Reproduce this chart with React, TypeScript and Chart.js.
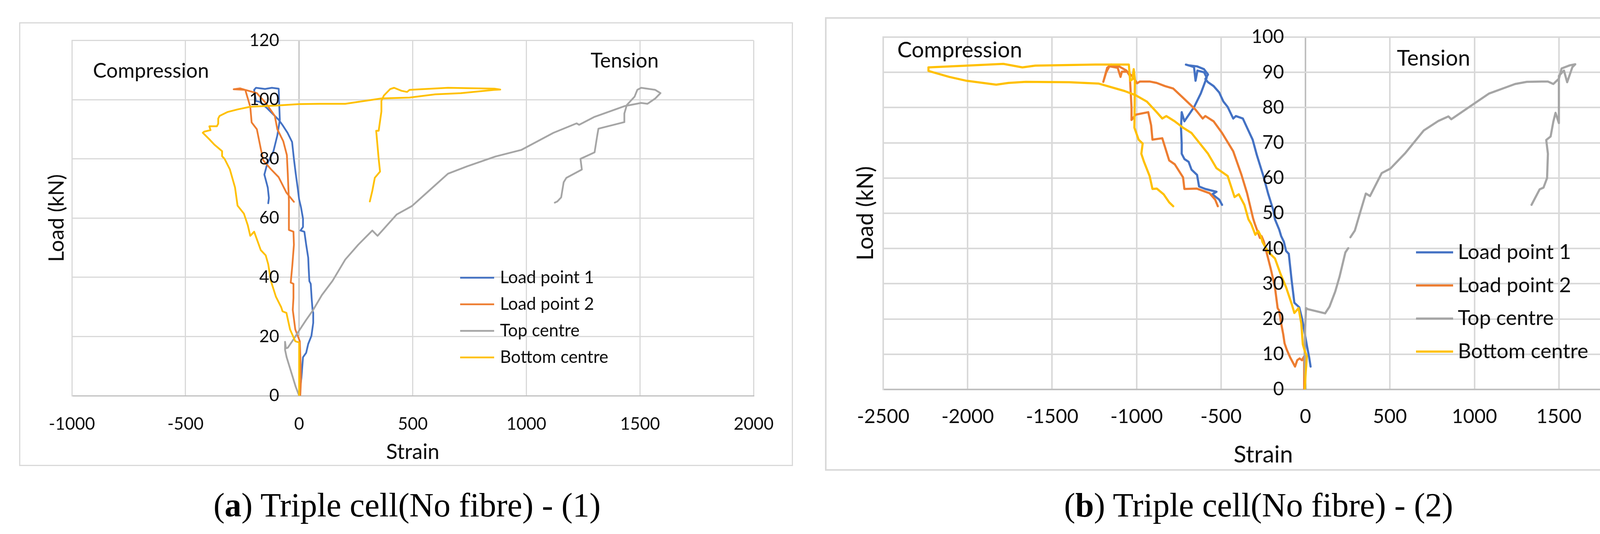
import React, { useEffect, useRef } from "react";
import { Chart, registerables } from "chart.js";

Chart.register(...registerables);

type Pt = [number, number | null];

const SERIES_NAMES = ["Load point 1", "Load point 2", "Top centre", "Bottom centre"];
const SERIES_COLORS = ["#4472C4", "#ED7D31", "#A5A5A5", "#FFC000"];

// ---------- Panel (a): Triple cell(No fibre) - (1) ----------
const aStrainTicks = [-1000, -500, 0, 500, 1000, 1500, 2000];
const aLoadTicks = [0, 20, 40, 60, 80, 100, 120];

const aLoadPoint1: Pt[] = [
  [0, 0], [10, 6], [17, 13], [31, 14.5], [40, 17.5], [54, 20.2], [62, 24.6], [62, 28], [59, 29], [55, 33],
  [51, 37.8], [45, 38.7], [42, 43], [40, 46.6], [31, 51], [23, 55.4], [6, 55.8], [17, 57], [17, 59.8], [8, 63.7],
  [0, 66.3], [-6, 70], [-15, 75], [-23, 80], [-31, 85.7], [-51, 88.8], [-73, 91.4], [-90, 93.2], [-119, 95.4],
  [-141, 97.1], [-175, 99.3], [-190, 99.5], [-198, 103.3], [-190, 104], [-150, 103.6], [-120, 104], [-90, 103.7],
  [-88, 99], [-85, 93.2], [-96, 87.9], [-113, 82.6], [-141, 78.2], [-153, 74.7], [-138, 70.3], [-133, 66.8], [-136, 65],
];
const aLoadPoint2: Pt[] = [
  [5, 0], [8, 5], [6, 12], [3, 18.4], [-17, 22.4], [-28, 29], [-25, 33], [-25, 37.8], [-37, 38.2], [-30, 44],
  [-23, 51], [-25, 55.4], [-45, 56], [-45, 59.8], [-45, 65.9], [-50, 75], [-54, 81.3], [-70, 86], [-96, 90],
  [-107, 94.5], [-147, 98.9], [-186, 102.2], [-237, 103.3], [-288, 103.5], [-260, 103.8], [-237, 103.3],
  [-215, 97.6], [-209, 92.3], [-186, 90], [-169, 83.5], [-158, 79.5], [-124, 76.5], [-90, 73.8], [-56, 68.6], [-23, 65.5],
];
const aTopCentre: Pt[] = [
  [0, 0], [-15, 3], [-35, 8], [-55, 13], [-62, 15.5], [-62, 18.2], [-58, 16], [-50, 16.2], [-25, 19], [0, 22],
  [30, 25.5], [62, 29], [100, 34], [147, 38.8], [203, 46], [260, 51], [322, 55.8], [345, 54], [429, 61.2],
  [497, 64.1], [571, 69.2], [655, 75], [740, 77.5], [864, 80.8], [977, 83], [1119, 88.8], [1221, 92], [1232, 91.5],
  [1300, 94.2], [1431, 97.8], [1505, 98.9], [1533, 98.6], [1567, 100.4], [1590, 102.2], [1567, 103.3], [1505, 104],
  [1488, 103.3], [1476, 101], [1442, 98.2], [1431, 95.3], [1431, 92.4], [1317, 90.2], [1312, 88], [1300, 82.2],
  [1238, 80], [1244, 76.4], [1176, 73.6], [1164, 72.1], [1153, 67], [1136, 65.6], [1125, 65.2],
];
const aBottomCentre: Pt[] = [
  [0, 0], [0, 10], [0, 18], [-17, 18.4], [-40, 22.4], [-56, 28], [-73, 28.5], [-79, 29.9], [-102, 33.4],
  [-124, 38.7], [-136, 44.4], [-147, 47.4], [-169, 49.2], [-181, 51.8], [-198, 55.4], [-215, 54], [-226, 57.6],
  [-243, 61.5], [-271, 64.2], [-282, 70.3], [-305, 76.5], [-328, 80], [-339, 80.9], [-339, 82.6], [-373, 84.8],
  [-395, 86.6], [-424, 88.8], [-418, 89.2], [-390, 89.7], [-395, 91], [-362, 91], [-356, 91.9], [-356, 93.6],
  [-350, 94.5], [-316, 95.8], [-271, 96.7], [-215, 97.6], [-158, 97.8], [-102, 98], [0, 98.5], [90, 98.6],
  [203, 98.6], [362, 100.4], [486, 100.7], [599, 101.8], [712, 102.2], [859, 103.3], [885, 103.4], [859, 103.7],
  [655, 104], [486, 103.3], [475, 102.6], [450, 103], [418, 104], [401, 103.6], [373, 101.4], [362, 99.6],
  [362, 96], [350, 89.5], [339, 89.5], [350, 80], [356, 75.7], [333, 73.6], [322, 69.2], [311, 65.6],
];

// ---------- Panel (b): Triple cell(No fibre) - (2) ----------
const bStrainTicks = [-2500, -2000, -1500, -1000, -500, 0, 500, 1000, 1500, 2000];
const bLoadTicks = [0, 10, 20, 30, 40, 50, 60, 70, 80, 90, 100];

const bLoadPoint1: Pt[] = [
  [30, 6.5], [22, 9], [10, 12], [-5, 16], [-20, 20], [-37, 23.3], [-66, 24.6], [-82, 30.9], [-99, 38.5],
  [-115, 39.3], [-128, 41.9], [-144, 43.5], [-156, 45.4], [-181, 48.3], [-189, 50.6], [-222, 55.7], [-247, 60.2],
  [-288, 66.5], [-313, 70.9], [-346, 74.3], [-371, 76.9], [-412, 77.6], [-428, 76.9], [-461, 80.2], [-486, 81.7],
  [-511, 84.3], [-544, 86.1], [-577, 87.2], [-593, 88.1], [-577, 89.4], [-601, 90.9], [-642, 91.7], [-692, 92],
  [-708, 92.2], [-660, 91.5], [-651, 87.6], [-640, 90.5], [-600, 90], [-585, 88.5], [-620, 84], [-659, 80.2],
  [-717, 76.1], [-733, 78.7], [-737, 74.3], [-733, 69.8], [-733, 66.9], [-717, 65.4], [-692, 64.6], [-675, 62.4],
  [-642, 60.9], [-630, 57.6], [-593, 56.9], [-527, 56.1], [-552, 55.4], [-511, 53.9], [-494, 52.4],
];
const bLoadPoint2: Pt[] = [
  [-8, 0], [-8, 5], [-8, 9.4], [-21, 8.3], [-35, 8.8], [-49, 8.3], [-62, 6.5], [-91, 9.1], [-111, 11.3],
  [-124, 13.1], [-132, 15.7], [-145, 19], [-156, 22.4], [-165, 23.1], [-181, 29], [-206, 34.3], [-231, 39],
  [-247, 42], [-260, 43.5], [-270, 43], [-300, 47], [-310, 48.5], [-346, 55.7], [-379, 60.9], [-428, 67.6],
  [-494, 72.8], [-544, 76.1], [-593, 77.6], [-609, 76.9], [-651, 79.4], [-725, 82.8], [-783, 85.4], [-832, 86.1],
  [-881, 87], [-923, 87.4], [-980, 87.4], [-997, 86.9], [-1021, 88.7], [-1054, 90.2], [-1087, 90.2], [-1095, 88.7],
  [-1112, 91.3], [-1161, 91.7], [-1180, 90], [-1197, 87.3], [-1174, 91.3], [-1150, 92.2], [-1100, 91.6],
  [-1060, 90.5], [-1040, 89], [-1030, 80], [-1030, 76.5], [-1005, 78], [-931, 78.7], [-914, 75], [-906, 70.9],
  [-848, 71.3], [-807, 65], [-774, 63.9], [-725, 60.2], [-717, 56.9], [-643, 57], [-568, 55.7], [-535, 53.9], [-519, 52],
];
const bTopCentre: Pt[] = [
  [0, 0], [-3, 5], [-5, 10], [-3, 16], [0, 20], [3, 23.1], [13, 22.8], [116, 21.6], [142, 23.5], [176, 27.8],
  [202, 32.1], [236, 38.9], [253, 40.1], [258, null], [266, 43.2], [292, 45.1], [322, 50], [357, 55.6], [382, 54.9],
  [451, 61.4], [503, 62.7], [589, 67], [700, 73.5], [786, 76.2], [846, 77.5], [863, 76.7], [1001, 81.2],
  [1087, 84], [1173, 85.5], [1241, 86.7], [1310, 87.3], [1400, 87.4], [1435, 87.4], [1467, 86.7], [1500, 88.2],
  [1516, 91.1], [1565, 92], [1597, 92.3], [1580, 91.5], [1549, 87.2], [1530, 90.5], [1500, 89], [1500, 75.6],
  [1480, 78.5], [1467, 76], [1451, 71.8], [1425, 70.8], [1435, 66.9], [1430, 60], [1409, 57.3], [1386, 56.8], [1338, 52.4],
];
const bBottomCentre: Pt[] = [
  [-4, 0], [0, 4], [8, 9.4], [-5, 11], [-16, 12.8], [-25, 18.7], [-41, 23.1], [-66, 21.7], [-82, 24.3],
  [-115, 29], [-148, 32.8], [-181, 37.2], [-214, 38.7], [-231, 39.8], [-255, 41.9], [-264, 43.5], [-280, 45],
  [-297, 43.9], [-321, 46.9], [-338, 48.3], [-362, 52.4], [-395, 55.4], [-420, 54.6], [-461, 60.6], [-494, 61.7],
  [-527, 62.8], [-577, 66.9], [-675, 72.8], [-725, 74.3], [-774, 76.1], [-824, 77.6], [-848, 76.9], [-881, 78.7],
  [-939, 81.7], [-1005, 83.5], [-1071, 84.7], [-1223, 86.8], [-1398, 87.2], [-1656, 87.3], [-1758, 87],
  [-1831, 86.5], [-2006, 87.6], [-2109, 88.7], [-2232, 90.4], [-2232, 91.4], [-2006, 91.9], [-1789, 92.4],
  [-1676, 91.4], [-1600, 91.9], [-1501, 92], [-1244, 92.2], [-1046, 92.2], [-1038, 87.6], [-1025, 88],
  [-1017, 90.9], [-1010, 88], [-1013, 74.3], [-988, 70.9], [-964, 69.8], [-972, 66.9], [-956, 64.6],
  [-923, 60.6], [-906, 56.9], [-880, 57], [-840, 55.4], [-807, 53.1], [-783, 52],
];

// ---------- layout / styling specs ----------
const FONT = "Lato, 'Open Sans', sans-serif";
const TEXT = "#0d0d0d";

const overlayPlugin = {
  id: "overlay",
  afterDatasetsDraw(chart: any, _args: any, o: any) {
    const { ctx } = chart;
    const xs = chart.scales.x;
    const ys = chart.scales.y;
    ctx.save();
    // y tick labels next to the zero-strain axis
    ctx.fillStyle = TEXT;
    ctx.font = `${o.yTickSize}px ${FONT}`;
    ctx.textAlign = "right";
    ctx.textBaseline = "middle";
    const x0 = xs.getPixelForValue(0) - o.yTickGap;
    ys.ticks.forEach((t: any) => ctx.fillText(String(t.value), x0, ys.getPixelForValue(t.value)));
    // annotations
    ctx.textAlign = "left";
    ctx.font = `${o.noteSize}px ${FONT}`;
    o.notes.forEach((n: any) => ctx.fillText(n.text, n.x, n.y));
    // legend
    ctx.font = `${o.legend.size}px ${FONT}`;
    chart.data.datasets.forEach((ds: any, i: number) => {
      const y = o.legend.y0 + i * o.legend.dy;
      ctx.strokeStyle = ds.borderColor;
      ctx.lineWidth = o.legend.lw;
      ctx.lineCap = "butt";
      ctx.beginPath();
      ctx.moveTo(o.legend.x1, y);
      ctx.lineTo(o.legend.x2, y);
      ctx.stroke();
      ctx.fillStyle = TEXT;
      ctx.fillText(ds.label, o.legend.tx, y);
    });
    ctx.restore();
  },
};

type Spec = {
  box: { left: number; top: number; width: number; height: number; border: number };
  series: Pt[][];
  xTicks: number[];
  yTicks: number[];
  padding: { top: number; right: number; left: number; bottom: number };
  xHeight: number;
  yWidth: number;
  xTickSize: number;
  xTickPad: number;
  xTitleSize: number;
  yTitleSize: number;
  lineWidth: number;
  gridWidth: number;
  overlay: any;
};

const specA: Spec = {
  box: { left: 49, top: 57, width: 1981, height: 1136, border: 3 },
  series: [aLoadPoint1, aLoadPoint2, aTopCentre, aBottomCentre],
  xTicks: aStrainTicks,
  yTicks: aLoadTicks,
  padding: { top: 43.5, right: 76, left: 61.6, bottom: 0 },
  xHeight: 177,
  yWidth: 70.4,
  xTickSize: 44,
  xTickPad: 46.6,
  xTitleSize: 54,
  yTitleSize: 54,
  lineWidth: 4.5,
  gridWidth: 3,
  overlay: {
    yTickSize: 44,
    yTickGap: 51,
    noteSize: 52,
    notes: [
      { text: "Compression", x: 186, y: 122 },
      { text: "Tension", x: 1460, y: 96 },
    ],
    legend: { x1: 1126, x2: 1213, tx: 1228, y0: 651, dy: 68, size: 44, lw: 4.5 },
  },
};

const specB: Spec = {
  box: { left: 2112, top: 44, width: 2222, height: 1161, border: 4 },
  series: [bLoadPoint1, bLoadPoint2, bTopCentre, bBottomCentre],
  xTicks: bStrainTicks,
  yTicks: bLoadTicks,
  padding: { top: 47, right: 123, left: 65.2, bottom: 0 },
  xHeight: 204,
  yWidth: 79.8,
  xTickSize: 50,
  xTickPad: 40,
  xTitleSize: 60,
  yTitleSize: 58,
  lineWidth: 5.5,
  gridWidth: 4,
  overlay: {
    yTickSize: 48,
    yTickGap: 55,
    noteSize: 56,
    notes: [
      { text: "Compression", x: 181, y: 81 },
      { text: "Tension", x: 1460, y: 102 },
    ],
    legend: { x1: 1509, x2: 1604, tx: 1616, y0: 598, dy: 84.7, size: 53, lw: 5.5 },
  },
};

function Panel({ spec }: { spec: Spec }) {
  const ref = useRef<HTMLCanvasElement>(null);
  const cw = spec.box.width - 2 * spec.box.border;
  const ch = spec.box.height - 2 * spec.box.border;

  useEffect(() => {
    const canvas = ref.current!;
    const xt = spec.xTicks;
    const yt = spec.yTicks;
    const chart = new Chart(canvas, {
      type: "scatter",
      data: {
        datasets: spec.series.map((pts, i) => ({
          label: SERIES_NAMES[i],
          data: pts.map(([x, y]) => ({ x, y })),
          showLine: true,
          borderColor: SERIES_COLORS[i],
          backgroundColor: SERIES_COLORS[i],
          borderWidth: spec.lineWidth,
          pointRadius: 0,
          pointHoverRadius: 0,
          tension: 0,
          spanGaps: false,
          borderJoinStyle: "round",
          borderCapStyle: "round",
          order: 3 - i,
        })),
      } as any,
      options: {
        animation: false,
        responsive: false,
        devicePixelRatio: 1,
        events: [],
        layout: { padding: spec.padding },
        plugins: {
          legend: { display: false },
          tooltip: { enabled: false },
          overlay: spec.overlay,
        } as any,
        scales: {
          x: {
            type: "linear",
            position: "bottom",
            min: xt[0],
            max: xt[xt.length - 1],
            ticks: {
              stepSize: xt[1] - xt[0],
              padding: spec.xTickPad,
              color: TEXT,
              autoSkip: false,
              maxRotation: 0,
              font: { size: spec.xTickSize, family: FONT },
              callback: (v: any) => String(v),
            },
            grid: {
              color: (c: any) => (c.tick && c.tick.value === 0 ? "#BFBFBF" : "#D9D9D9"),
              lineWidth: spec.gridWidth,
              drawTicks: false,
            },
            border: { color: "#BFBFBF", width: spec.gridWidth },
            title: {
              display: true,
              text: "Strain",
              color: TEXT,
              font: { size: spec.xTitleSize, family: FONT },
              padding: { top: 0, bottom: 0 },
            },
            afterFit: (s: any) => {
              s.height = spec.xHeight;
            },
          },
          y: {
            type: "linear",
            position: "left",
            min: yt[0],
            max: yt[yt.length - 1],
            ticks: { stepSize: yt[1] - yt[0], display: false },
            grid: { color: "#D9D9D9", lineWidth: spec.gridWidth, drawTicks: false },
            border: { color: "#D9D9D9", width: spec.gridWidth },
            title: {
              display: true,
              text: "Load (kN)",
              color: TEXT,
              font: { size: spec.yTitleSize, family: FONT },
              padding: 0,
            },
            afterFit: (s: any) => {
              s.width = spec.yWidth;
            },
          },
        },
      } as any,
      plugins: [overlayPlugin as any],
    });
    return () => chart.destroy();
  }, []);

  return (
    <div
      style={{
        position: "absolute",
        left: spec.box.left,
        top: spec.box.top,
        width: spec.box.width,
        height: spec.box.height,
        border: `${spec.box.border}px solid #D9D9D9`,
        boxSizing: "border-box",
        background: "#fff",
      }}
    >
      <canvas ref={ref} width={cw} height={ch} style={{ display: "block", width: cw, height: ch }} />
    </div>
  );
}

function Caption({ cx, label, text }: { cx: number; label: string; text: string }) {
  return (
    <div
      style={{
        position: "absolute",
        left: cx - 1000,
        width: 2000,
        top: 1250,
        textAlign: "center",
        fontFamily: "'Liberation Serif', 'DejaVu Serif', serif",
        fontSize: 86,
        lineHeight: "86px",
        color: "#000",
        whiteSpace: "nowrap",
      }}
    >
      (<b>{label}</b>) {text}
    </div>
  );
}

export default function App() {
  useEffect(() => {
    document.body.style.margin = "0";
    document.body.style.overflow = "hidden";
    document.body.style.background = "#fff";
  }, []);
  return (
    <div style={{ position: "relative", width: 4380, height: 1367, overflow: "hidden", background: "#fff" }}>
      <Panel spec={specA} />
      <Panel spec={specB} />
      <Caption cx={1042} label="a" text="Triple cell(No fibre) - (1)" />
      <Caption cx={3222} label="b" text="Triple cell(No fibre) - (2)" />
    </div>
  );
}
